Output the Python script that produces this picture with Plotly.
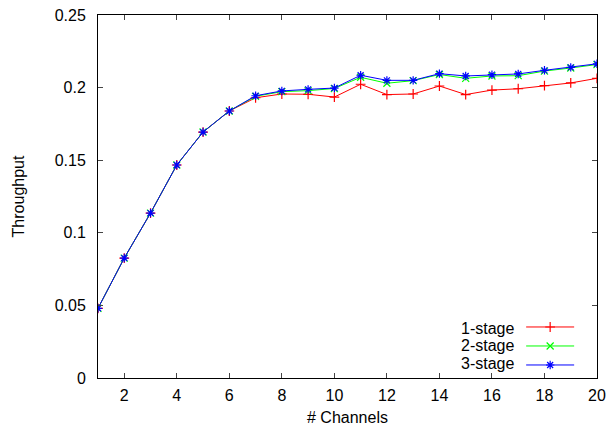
import plotly.graph_objects as go

channels = list(range(1, 21))
stage1 = [0.048, 0.0826, 0.1136, 0.1467, 0.1694, 0.1839, 0.1930, 0.1956, 0.1954, 0.1935,
          0.2023, 0.1952, 0.1956, 0.2011, 0.1952, 0.1983, 0.1992, 0.2013, 0.2032, 0.2064]
stage2 = [0.048, 0.0826, 0.1136, 0.1467, 0.1694, 0.1839, 0.1940, 0.1972, 0.1979, 0.1994,
          0.2071, 0.2030, 0.2048, 0.2090, 0.2064, 0.2080, 0.2082, 0.2114, 0.2135, 0.2159]
stage3 = [0.048, 0.0826, 0.1136, 0.1467, 0.1694, 0.1839, 0.1944, 0.1977, 0.1988, 0.1997,
          0.2085, 0.2050, 0.2050, 0.2096, 0.2080, 0.2089, 0.2094, 0.2119, 0.2139, 0.2164]
names = ["1-stage", "2-stage", "3-stage"]
colors = ["#ff0000", "#00ff00", "#0000ff"]
symbols = ["cross-thin-open", "x-thin-open", "asterisk-open"]
x_ticks = [2, 4, 6, 8, 10, 12, 14, 16, 18, 20]
y_ticks = [0, 0.05, 0.1, 0.15, 0.2, 0.25]
y_labels = ["0", "0.05", "0.1", "0.15", "0.2", "0.25"]

FONT = "Liberation Sans, Arial, sans-serif"
fig = go.Figure()
for name, ys, c, s in zip(names, [stage1, stage2, stage3], colors, symbols):
    fig.add_trace(go.Scatter(
        x=channels, y=ys, name=name, mode="lines+markers",
        line=dict(color=c, width=1),
        marker=dict(symbol=s, size=7, color=c, line=dict(color=c, width=1.2)),
    ))

axis_common = dict(
    showline=True, linecolor="black", linewidth=1, mirror="ticks",
    ticks="inside", ticklen=5, tickcolor="#444", showgrid=False, zeroline=False,
    automargin=False,
    tickfont=dict(family=FONT, size=16, color="black"),
)
fig.update_xaxes(range=[1, 20], tickvals=x_ticks, ticklabelstandoff=3,
                 title=dict(text="# Channels", font=dict(family=FONT, size=16, color="black"), standoff=8),
                 **axis_common)
fig.update_yaxes(range=[0, 0.25], tickvals=y_ticks, ticktext=y_labels, ticklabelstandoff=8,
                 title=dict(text="Throughput", font=dict(family=FONT, size=16, color="black"), standoff=26),
                 **axis_common)

legend_y = [0.1377, 0.0882, 0.0386]
for name, yy in zip(names, legend_y):
    fig.add_annotation(text=name, xref="paper", yref="paper", x=0.838, y=yy,
                       xanchor="right", yanchor="middle", showarrow=False,
                       font=dict(family=FONT, size=16, color="black"))

fig.update_layout(
    width=607, height=433, autosize=False,
    margin=dict(l=98, r=10, t=15, b=55),
    paper_bgcolor="white", plot_bgcolor="white",
    font=dict(family=FONT, size=15, color="black"),
    legend=dict(x=0.848, y=0.0882, xanchor="left", yanchor="middle",
                bgcolor="rgba(0,0,0,0)", itemwidth=48,
                font=dict(family=FONT, size=1, color="rgba(0,0,0,0)")),
)
fig.write_html(
    "out.html",
    config={"responsive": False, "displayModeBar": False},
    default_width="607px", default_height="433px",
    post_script="document.body.style.margin='0';document.body.style.overflow='hidden';",
)
